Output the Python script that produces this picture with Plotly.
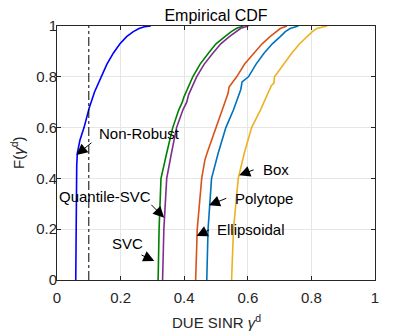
import plotly.graph_objects as go

# empirical CDF curves (x = DUE SINR, f = F)
nonrobust_x = [0.059, 0.060, 0.061, 0.062, 0.064, 0.072, 0.085, 0.101, 0.118, 0.138,
               0.157, 0.177, 0.198, 0.219, 0.240, 0.258, 0.275, 0.295]
nonrobust_f = [0, 0.2, 0.35, 0.45, 0.5, 0.55, 0.6, 0.676, 0.74, 0.8,
               0.85, 0.893, 0.93, 0.958, 0.978, 0.99, 0.997, 1]

svc_x = [0.318, 0.321, 0.327, 0.337, 0.345, 0.364, 0.383, 0.394, 0.399, 0.427,
         0.450, 0.476, 0.500, 0.528, 0.548, 0.565, 0.586]
svc_f = [0, 0.2, 0.4, 0.45, 0.5, 0.6, 0.67, 0.70, 0.72, 0.8,
         0.85, 0.893, 0.93, 0.958, 0.978, 0.991, 1]

qsvc_x = [0.332, 0.336, 0.345, 0.352, 0.360, 0.376, 0.396, 0.408, 0.414, 0.439,
          0.463, 0.490, 0.515, 0.542, 0.562, 0.578, 0.602]
qsvc_f = [0, 0.2, 0.4, 0.45, 0.5, 0.6, 0.67, 0.70, 0.73, 0.8,
          0.85, 0.893, 0.93, 0.958, 0.978, 0.991, 1]

ellip_x = [0.436, 0.441, 0.455, 0.465, 0.472, 0.500, 0.522, 0.538, 0.541, 0.565,
           0.590, 0.618, 0.645, 0.670, 0.688, 0.702, 0.723]
ellip_f = [0, 0.2, 0.4, 0.472, 0.5, 0.6, 0.67, 0.735, 0.76, 0.8,
           0.85, 0.893, 0.93, 0.958, 0.978, 0.99, 1]

poly_x = [0.471, 0.475, 0.486, 0.500, 0.507, 0.531, 0.555, 0.578, 0.582, 0.602,
          0.626, 0.651, 0.677, 0.702, 0.718, 0.733, 0.759]
poly_f = [0, 0.2, 0.4, 0.472, 0.5, 0.6, 0.67, 0.75, 0.78, 0.8,
          0.85, 0.893, 0.93, 0.958, 0.978, 0.99, 1]

box_x = [0.549, 0.555, 0.570, 0.584, 0.589, 0.612, 0.640, 0.674, 0.682, 0.684,
         0.712, 0.738, 0.763, 0.786, 0.803, 0.817, 0.849]
box_f = [0, 0.2, 0.4, 0.472, 0.5, 0.6, 0.67, 0.765, 0.775, 0.8,
         0.85, 0.893, 0.93, 0.958, 0.978, 0.99, 1]

threshold = 0.1

tick_vals = [0, 0.2, 0.4, 0.6, 0.8, 1]
tick_text = ["0", "0.2", "0.4", "0.6", "0.8", "1"]

# label text, label position, arrow tail, arrow tip
labels = ["Non-Robust", "Box", "Polytope", "Ellipsoidal", "Quantile-SVC", "SVC"]
label_x = [0.258, 0.688, 0.651, 0.611, 0.152, 0.222]
label_y = [0.575, 0.437, 0.322, 0.197, 0.328, 0.144]
tail_x = [0.113, 0.623, 0.537, 0.483, 0.292, 0.261]
tail_y = [0.545, 0.436, 0.324, 0.200, 0.302, 0.101]
tip_x = [0.061, 0.573, 0.478, 0.439, 0.337, 0.306]
tip_y = [0.492, 0.412, 0.294, 0.173, 0.245, 0.075]

series = [
    (nonrobust_x, nonrobust_f, "#0000FF"),
    (svc_x, svc_f, "#008000"),
    (qsvc_x, qsvc_f, "#7E2F8E"),
    (ellip_x, ellip_f, "#D95319"),
    (poly_x, poly_f, "#0072BD"),
    (box_x, box_f, "#EDB120"),
]

fig = go.Figure()

for xs, fs, color in series:
    fig.add_trace(go.Scatter(x=xs, y=fs, mode="lines",
                             line=dict(color=color, width=1.6),
                             showlegend=False))

fig.add_trace(go.Scatter(x=[threshold, threshold], y=[0, 1], mode="lines",
                         line=dict(color="black", width=1, dash="dashdot"),
                         showlegend=False))

for i in range(len(labels)):
    fig.add_annotation(x=label_x[i], y=label_y[i], text=labels[i], showarrow=False,
                       font=dict(size=15, color="black"))
    fig.add_annotation(x=tip_x[i], y=tip_y[i], ax=tail_x[i], ay=tail_y[i],
                       axref="x", ayref="y", text="", showarrow=True,
                       arrowhead=2, arrowsize=2.2, arrowwidth=1, arrowcolor="black")

# axis titles placed by hand
fig.add_annotation(x=0.5, y=0, xref="paper", yref="paper", yshift=-41,
                   text="DUE SINR <i>γ</i><sup>d</sup>", showarrow=False,
                   yanchor="middle", font=dict(size=15, color="#262626"))
fig.add_annotation(x=0, y=0.5, xref="paper", yref="paper", xshift=-40,
                   text="F(<i>γ</i><sup>d</sup>)", showarrow=False, textangle=-90,
                   xanchor="center", font=dict(size=15, color="#262626"))

axis_style = dict(range=[0, 1], tickvals=tick_vals, ticktext=tick_text,
                  showgrid=True, gridcolor="#e6e6e6", gridwidth=1,
                  zeroline=False, showline=True, linecolor="#262626", linewidth=1,
                  mirror="ticks", ticks="inside", ticklen=4, tickcolor="#262626",
                  tickfont=dict(size=15, color="#262626"), automargin=False)

fig.update_xaxes(**axis_style, ticklabelstandoff=4)
fig.update_yaxes(**axis_style, ticklabelstandoff=-4)

# the page body adds 8px, so margins are shifted to keep the plot area in place
fig.update_layout(
    width=415, height=332,
    margin=dict(l=49, r=48, t=18, b=60),
    paper_bgcolor="white", plot_bgcolor="white",
    font=dict(family="Liberation Sans, Arial, sans-serif"),
    title=dict(text="Empirical CDF", x=0.5, xref="paper", xanchor="center",
               y=1, yanchor="top", pad=dict(t=2),
               font=dict(size=16, color="black")),
)

fig.write_html("out.html")
